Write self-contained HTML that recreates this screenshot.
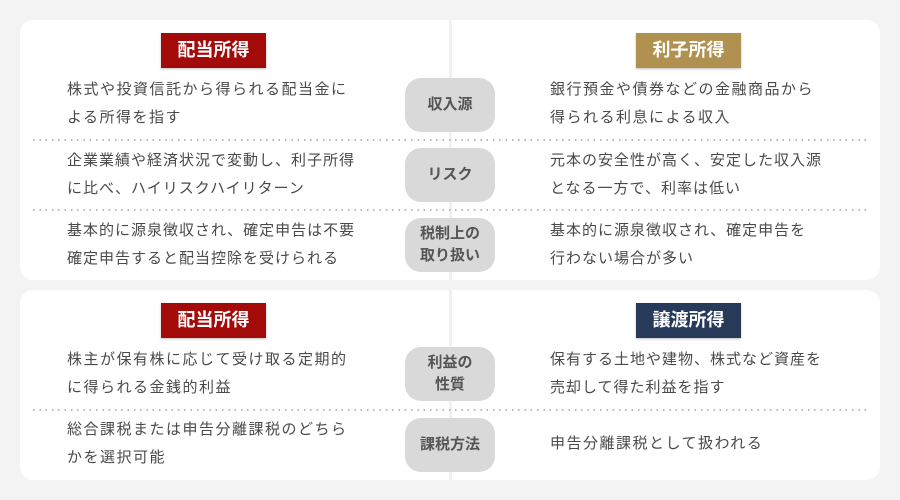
<!DOCTYPE html>
<html><head><meta charset="utf-8"><style>
body{margin:0;width:900px;height:500px;background:#f3f3f3;font-family:"Liberation Sans","Noto Sans CJK JP",sans-serif;position:relative;overflow:hidden}
.card{position:absolute;left:20px;width:860px;background:#fff;border-radius:13px}
.vl{position:absolute;left:449px;width:3px;background:#f1f1f1}
.h{position:absolute;width:105px;height:35px;color:#fff;font-weight:bold;font-size:18px;line-height:35px;text-align:center;box-shadow:0 1px 2px rgba(0,0,0,.25)}
.p{position:absolute;left:405px;width:90px;height:54px;background:#d9d9d9;border-radius:16px;color:#555;font-weight:bold;font-size:15px;display:flex;align-items:center;justify-content:center;text-align:center;line-height:22px}
.t{position:absolute;font-size:15px;color:#4a4a4a;line-height:28px;white-space:nowrap;letter-spacing:1.5px}
.d{position:absolute;left:33px;width:836px;height:2px;background:repeating-linear-gradient(90deg,#b8b8b8 0 1.5px,transparent 1.5px 6.3px)}
</style></head><body>
<div class="card" style="top:20px;height:260px"></div>
<div class="card" style="top:290px;height:190px"></div>
<div class="vl" style="top:20px;height:260px"></div>
<div class="vl" style="top:290px;height:190px"></div>
<div class="d" style="top:139px"></div>
<div class="d" style="top:209px"></div>
<div class="d" style="top:409px"></div>
<div class="h" style="left:161px;top:33px;background:#a30b0b">配当所得</div>
<div class="h" style="left:636px;top:33px;background:#b0914f">利子所得</div>
<div class="h" style="left:161px;top:303px;background:#a30b0b">配当所得</div>
<div class="h" style="left:636px;top:303px;background:#283a5a">譲渡所得</div>
<div class="p" style="top:78px">収入源</div>
<div class="p" style="top:148px">リスク</div>
<div class="p" style="top:218px">税制上の<br>取り扱い</div>
<div class="p" style="top:347px">利益の<br>性質</div>
<div class="p" style="top:418px">課税方法</div>
<div class="t" style="left:67px;top:76px">株式や投資信託から得られる配当金に<br>よる所得を指す</div>
<div class="t" style="left:67px;top:147px;letter-spacing:1px">企業業績や経済状況で変動し、利子所得<br>に比べ、ハイリスクハイリターン</div>
<div class="t" style="left:67px;top:217px;letter-spacing:1px">基本的に源泉徴収され、確定申告は不要<br>確定申告すると配当控除を受けられる</div>
<div class="t" style="left:67px;top:346px">株主が保有株に応じて受け取る定期的<br>に得られる金銭的利益</div>
<div class="t" style="left:67px;top:416px">総合課税または申告分離課税のどちら<br>かを選択可能</div>
<div class="t" style="left:550px;top:76px">銀行預金や債券などの金融商品から<br>得られる利息による収入</div>
<div class="t" style="left:550px;top:147px;letter-spacing:1px">元本の安全性が高く、安定した収入源<br>となる一方で、利率は低い</div>
<div class="t" style="left:550px;top:217px;letter-spacing:1px">基本的に源泉徴収され、確定申告を<br>行わない場合が多い</div>
<div class="t" style="left:550px;top:346px;letter-spacing:1px">保有する土地や建物、株式など資産を<br>売却して得た利益を指す</div>
<div class="t" style="left:550px;top:430px">申告分離課税として扱われる</div>
</body></html>
